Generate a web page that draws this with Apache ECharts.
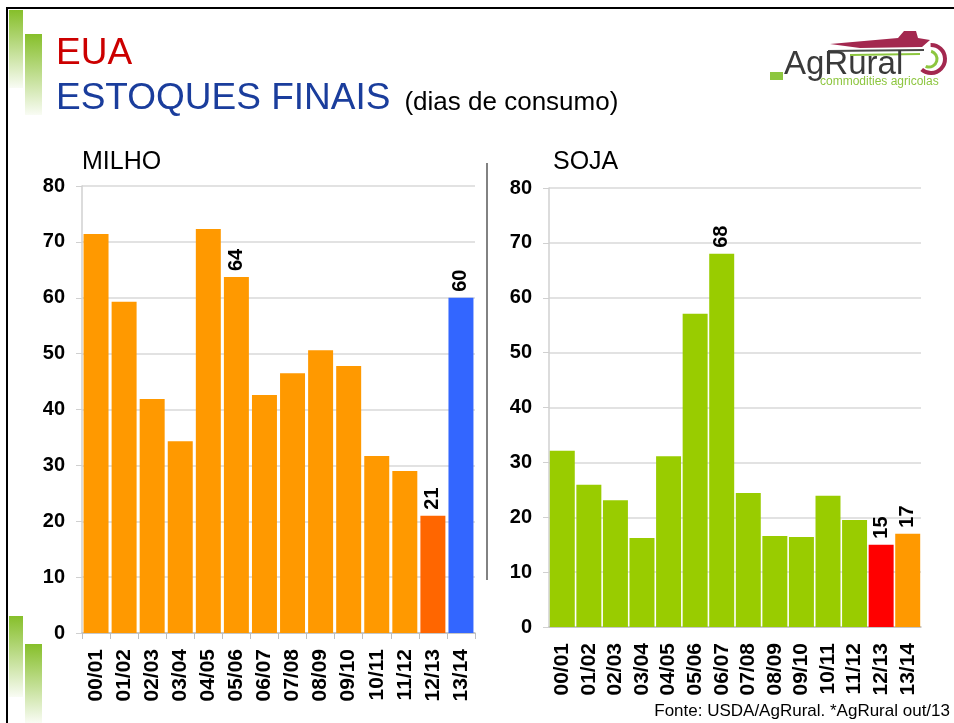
<!DOCTYPE html>
<html>
<head>
<meta charset="utf-8">
<script src="https://cdn.jsdelivr.net/npm/echarts@6/dist/echarts.min.js"></script>
<style>
  html, body { margin: 0; padding: 0; background: #fff; }
  #main { width: 954px; height: 723px; }
</style>
</head>
<body>
<div id="main"></div>
<script>
// safras
var categories = ['00/01', '01/02', '02/03', '03/04', '04/05', '05/06', '06/07',
  '07/08', '08/09', '09/10', '10/11', '11/12', '12/13', '13/14'];
// dias de consumo - milho
var milho = [71.4, 59.3, 41.9, 34.3, 72.3, 63.7, 42.6, 46.5, 50.6, 47.8, 31.7, 29.0, 21, 60];
// dias de consumo - soja
var soja = [32.1, 25.9, 23.1, 16.2, 31.1, 57.1, 68, 24.4, 16.6, 16.4, 23.9, 19.5, 15, 17];
var yTicks = [0, 10, 20, 30, 40, 50, 60, 70, 80];

var chart = echarts.init(document.getElementById('main'));
var fontF = 'Liberation Sans, Arial, sans-serif';

// rotulos so em algumas barras
var milhoLabels = [5, 12, 13];
var sojaLabels = [6, 12, 13];

function milhoColor(p) {
  if (p.dataIndex === 12) return '#ff6600';
  if (p.dataIndex === 13) return '#3366ff';
  return '#ff9900';
}
function sojaColor(p) {
  if (p.dataIndex === 12) return '#ff0000';
  if (p.dataIndex === 13) return '#ff9900';
  return '#99cc00';
}

function xAxis(idx, showTick) {
  return {
    type: 'category',
    gridIndex: idx,
    data: categories,
    axisLine: { lineStyle: { color: '#bfbfbf', width: 1.5 } },
    axisTick: { show: showTick, alignWithLabel: false, length: 6, lineStyle: { color: '#bfbfbf' } },
    axisLabel: {
      rotate: 90, margin: 16, color: '#000', fontFamily: fontF,
      fontSize: 21, fontWeight: 'bold', interval: 0
    }
  };
}
function yAxis(idx) {
  return {
    type: 'value',
    gridIndex: idx,
    min: 0, max: 80, interval: 10,
    axisLine: { show: true, lineStyle: { color: '#d0d0d0', width: 1.5 } },
    axisTick: { show: true, length: 6, lineStyle: { color: '#d0d0d0' } },
    splitLine: { lineStyle: { color: '#d9d9d9', width: 1.5 } },
    axisLabel: {
      margin: 17, color: '#000', fontFamily: fontF, fontSize: 20, fontWeight: 'bold',
      formatter: function (v) { return yTicks.indexOf(v) >= 0 ? String(v) : ''; }
    }
  };
}
function barLabel(list) {
  return {
    show: true, position: 'top', rotate: 90, align: 'left', verticalAlign: 'middle',
    distance: 6, color: '#000', fontFamily: fontF, fontSize: 20, fontWeight: 'bold',
    formatter: function (p) { return list.indexOf(p.dataIndex) >= 0 ? Math.round(p.value) : ''; }
  };
}

var green = new echarts.graphic.LinearGradient(0, 0, 0, 1, [
  { offset: 0, color: '#86bf2a' }, { offset: 1, color: 'rgba(134,191,42,0.05)' }
]);

var option = {
  backgroundColor: '#fff',
  animation: false,
  grid: [
    { left: 82, top: 186, width: 393, height: 447 },
    { left: 549, top: 188, width: 372, height: 439 }
  ],
  xAxis: [xAxis(0, true), xAxis(1, false)],
  yAxis: [yAxis(0), yAxis(1)],
  series: [
    {
      type: 'bar', xAxisIndex: 0, yAxisIndex: 0, data: milho,
      barCategoryGap: '11%', itemStyle: { color: milhoColor },
      label: barLabel(milhoLabels)
    },
    {
      type: 'bar', xAxisIndex: 1, yAxisIndex: 1, data: soja,
      barCategoryGap: '6%', itemStyle: { color: sojaColor },
      label: barLabel(sojaLabels)
    }
  ],
  graphic: [
    // moldura
    { type: 'line', shape: { x1: 6, y1: 8, x2: 954, y2: 8 }, style: { stroke: '#000', lineWidth: 2 } },
    { type: 'line', shape: { x1: 7, y1: 8, x2: 7, y2: 723 }, style: { stroke: '#000', lineWidth: 2 } },
    // barras decorativas verdes
    { type: 'rect', shape: { x: 9, y: 10, width: 14, height: 78 }, style: { fill: green } },
    { type: 'rect', shape: { x: 25, y: 34, width: 17, height: 81 }, style: { fill: green } },
    { type: 'rect', shape: { x: 9, y: 616, width: 14, height: 81 }, style: { fill: green } },
    { type: 'rect', shape: { x: 25, y: 644, width: 17, height: 79 }, style: { fill: green } },
    // titulos
    { type: 'text', left: 56, top: 35, style: { text: 'EUA', fill: '#cc0000', font: '37px ' + fontF } },
    {
      type: 'text', left: 56, top: 80, style: {
        text: '{a|ESTOQUES FINAIS}{b|(dias de consumo)}',
        rich: {
          a: { fill: '#1a3d9c', fontSize: 37, fontFamily: fontF },
          b: { fill: '#000', fontSize: 26, fontFamily: fontF, padding: [8, 0, 0, 14] }
        }
      }
    },
    { type: 'text', left: 82, top: 150, style: { text: 'MILHO', fill: '#000', font: '25px ' + fontF } },
    { type: 'text', left: 553, top: 150, style: { text: 'SOJA', fill: '#000', font: '25px ' + fontF } },
    // divisor
    { type: 'line', shape: { x1: 487, y1: 163, x2: 487, y2: 580 }, style: { stroke: '#595959', lineWidth: 1.5 } },
    // logo AgRural
    { type: 'polygon', shape: { points: [[830, 44], [898, 38], [904, 31], [916, 31], [918, 38], [930, 40], [922, 47], [860, 48]] }, style: { fill: '#a3284f' } },
    { type: 'line', shape: { x1: 828, y1: 51, x2: 924, y2: 50 }, style: { stroke: '#4a4a4a', lineWidth: 2 } },
    { type: 'line', shape: { x1: 850, y1: 55, x2: 920, y2: 54 }, style: { stroke: '#8dc63f', lineWidth: 2 } },
    { type: 'arc', shape: { cx: 931, cy: 59, r: 14, startAngle: -1.6, endAngle: 2.3 }, style: { stroke: '#a3284f', fill: null, lineWidth: 4 } },
    { type: 'arc', shape: { cx: 929, cy: 59, r: 8, startAngle: -1.3, endAngle: 2.0 }, style: { stroke: '#8dc63f', fill: null, lineWidth: 3 } },
    { type: 'rect', shape: { x: 770, y: 72, width: 13, height: 8 }, style: { fill: '#8dc63f' } },
    { type: 'text', left: 784, top: 48, style: { text: 'AgRural', fill: '#3a3a3a', font: '33px ' + fontF } },
    { type: 'text', left: 820, top: 76, style: { text: 'commodities agricolas', fill: '#8dc63f', font: '12px ' + fontF } },
    // fonte
    { type: 'text', right: 4, top: 703, style: { text: 'Fonte: USDA/AgRural. *AgRural out/13', fill: '#000', font: '17px ' + fontF } }
  ]
};
chart.setOption(option);
</script>
</body>
</html>
